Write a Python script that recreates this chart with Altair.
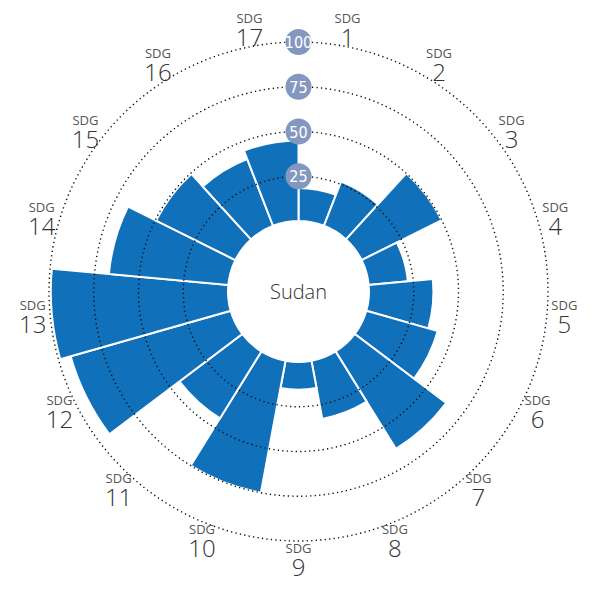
import altair as alt
import pandas as pd

sdg_numbers = list(range(1, 18))
sdg_values = [18.5, 26.5, 50, 22, 36, 41.5, 64, 33, 15.5, 75, 44, 93, 99, 67, 49.5, 40, 45]
grid_values = [25, 50, 75, 100]
country = "Sudan"

W, H = 571, 557
CX, CY = W / 2, H / 2
R0, R100 = 70.5, 249.5
N = len(sdg_numbers)

df = pd.DataFrame({
    "sdg": sdg_numbers,
    "value": sdg_values,
    "one": [1] * N,
    "num": [str(n) for n in sdg_numbers],
    "lab": ["SDG"] * N,
})
gdf = pd.DataFrame({"g": grid_values, "gl": [str(g) for g in grid_values]})

rscale = alt.Scale(type="linear", domain=[0, 100], range=[R0, R100], zero=False)
tscale = alt.Scale(type="linear", domain=[0, N], range=[0, 6.283185307], zero=False)

base = alt.Chart(df).transform_window(
    end="sum(one)", sort=[alt.SortField("sdg")], frame=[None, 0]
).transform_calculate(start="datum.end - 1", mid="datum.end - 0.5")

bars = base.mark_arc(color="#1070B9", stroke="white", strokeWidth=2).encode(
    theta=alt.Theta("start:Q", scale=tscale, stack=False),
    theta2="end:Q",
    radius=alt.Radius("value:Q", scale=rscale, stack=False),
    radius2=alt.datum(0),
)

grid = alt.Chart(gdf).mark_arc(
    theta=0, theta2=6.2832, filled=False, stroke="#111", strokeWidth=1.4,
    strokeDash=[1.3, 3.2]
).encode(
    radius=alt.Radius("g:Q", scale=rscale, stack=False),
    radius2=alt.value(0),
)

yscale = alt.Scale(domain=[0, 100], range=[CY - R0, CY - R100])
gcirc = alt.Chart(gdf).mark_circle(color="#8497BE", opacity=1, size=680).encode(
    x=alt.value(CX), y=alt.Y("g:Q", scale=yscale, axis=None)
)
gtext = alt.Chart(gdf).mark_text(
    color="white", fontSize=16,
    font="'Liberation Sans Narrow', 'DejaVu Sans Condensed', 'Open Sans'",
    baseline="middle", dy=1
).encode(x=alt.value(CX), y=alt.Y("g:Q", scale=yscale, axis=None), text="gl:N")

lab_sdg = base.mark_text(
    radius=267, dy=-10, fontSize=13, color="#555", font="Open Sans", baseline="middle"
).encode(theta=alt.Theta("mid:Q", scale=tscale, stack=False), text="lab:N")
lab_num = base.mark_text(
    radius=267, dy=10, fontSize=24, color="#333", font="Open Sans", fontWeight=300,
    baseline="middle"
).encode(theta=alt.Theta("mid:Q", scale=tscale, stack=False), text="num:N")

center = alt.Chart(pd.DataFrame({"c": [country]})).mark_text(
    fontSize=20, color="#333", font="Open Sans", fontWeight=300, baseline="middle"
).encode(x=alt.value(CX), y=alt.value(CY + 1), text="c:N")

chart = alt.layer(bars, grid, gcirc, gtext, lab_sdg, lab_num, center).properties(
    width=W, height=H,
    autosize=alt.AutoSizeParams(type="none"),
    padding={"left": 5, "top": 5, "right": 5, "bottom": 11},
).configure_view(stroke=None)

chart.save("out.html", embed_options={"renderer": "svg", "actions": False})
